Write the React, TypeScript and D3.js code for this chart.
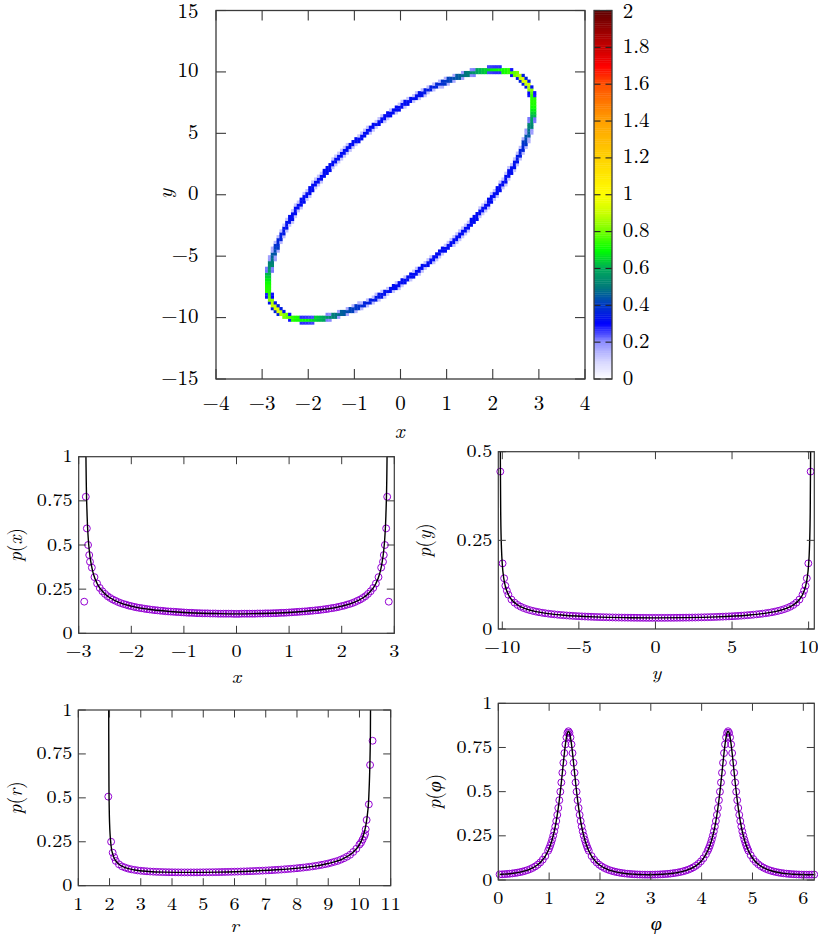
import React, { useMemo } from "react";
import * as d3 from "d3";

const FONT = '"Latin Modern Roman", "Liberation Serif", serif';
const MINUS = "\u2212";

// ---------------- top panel: 2D histogram on the orbit ----------------
const ringX = [2.880, 2.855, 2.782, 2.661, 2.494, 2.285, 2.036, 1.753, 1.440, 1.102, 0.745, 0.376, 0, -0.376, -0.745, -1.102, -1.440, -1.753, -2.036, -2.285, -2.494, -2.661, -2.782, -2.855, -2.880, -2.855, -2.782, -2.661, -2.494, -2.285, -2.036, -1.753, -1.440, -1.102, -0.745, -0.376, 0, 0.376, 0.745, 1.102, 1.440, 1.753, 2.036, 2.285, 2.494, 2.661, 2.782, 2.855];
const ringY = [7.212, 8.092, 8.833, 9.423, 9.852, 10.112, 10.199, 10.112, 9.852, 9.423, 8.833, 8.092, 7.212, 6.209, 5.100, 3.903, 2.640, 1.331, 0, -1.331, -2.640, -3.903, -5.100, -6.209, -7.212, -8.092, -8.833, -9.423, -9.852, -10.112, -10.199, -10.112, -9.852, -9.423, -8.833, -8.092, -7.212, -6.209, -5.100, -3.903, -2.640, -1.331, 0, 1.331, 2.640, 3.903, 5.100, 6.209];
const ringZ = [0.72, 0.74, 0.88, 0.95, 0.80, 0.72, 0.70, 0.62, 0.50, 0.42, 0.36, 0.33, 0.32, 0.32, 0.32, 0.32, 0.32, 0.32, 0.32, 0.32, 0.33, 0.37, 0.47, 0.58, 0.72, 0.74, 0.88, 0.95, 0.80, 0.72, 0.70, 0.62, 0.50, 0.42, 0.36, 0.33, 0.32, 0.32, 0.32, 0.32, 0.32, 0.32, 0.32, 0.32, 0.33, 0.37, 0.47, 0.58];
const heatXTicks = [-4, -3, -2, -1, 0, 1, 2, 3, 4];
const heatYTicks = [-15, -10, -5, 0, 5, 10, 15];
const cbTicks = [0, 0.2, 0.4, 0.6, 0.8, 1, 1.2, 1.4, 1.6, 1.8, 2];
const paletteStops = [0, 0.1, 0.2, 0.3, 0.4, 0.5, 0.6, 0.7, 0.8, 0.9, 1.0, 1.2, 1.4, 1.6, 1.7, 1.8, 2.0];
const paletteColors = ["#ffffff", "#d4d4ff", "#9090ff", "#0000ff", "#0038c8", "#007a7a", "#00aa5a", "#00ff00", "#70ff00", "#c8ff00", "#ffff00", "#ffd200", "#ffa000", "#ff5000", "#ff0000", "#c80000", "#600000"];

// ---------------- p(x) ----------------
const pxGridStart = -2.75;
const pxGridStep = 0.05;
const pxGridP = [0.372, 0.318, 0.282, 0.257, 0.238, 0.223, 0.210, 0.200, 0.191, 0.184, 0.177, 0.171, 0.166, 0.162, 0.157, 0.154, 0.150, 0.147, 0.144, 0.142, 0.139, 0.137, 0.135, 0.133, 0.131, 0.130, 0.128, 0.127, 0.125, 0.124, 0.123, 0.122, 0.121, 0.120, 0.119, 0.118, 0.117, 0.116, 0.116, 0.115, 0.114, 0.114, 0.113, 0.113, 0.113, 0.112, 0.112, 0.112, 0.111, 0.111, 0.111, 0.111, 0.111, 0.111, 0.110,
  0.110,
  0.110, 0.111, 0.111, 0.111, 0.111, 0.111, 0.111, 0.112, 0.112, 0.112, 0.113, 0.113, 0.113, 0.114, 0.114, 0.115, 0.116, 0.116, 0.117, 0.118, 0.119, 0.120, 0.121, 0.122, 0.123, 0.124, 0.125, 0.127, 0.128, 0.130, 0.131, 0.133, 0.135, 0.137, 0.139, 0.142, 0.144, 0.147, 0.150, 0.154, 0.157, 0.162, 0.166, 0.171, 0.177, 0.184, 0.191, 0.200, 0.210, 0.223, 0.238, 0.257, 0.282, 0.318, 0.372];
const pxEdgeX = [-2.895, -2.865, -2.845, -2.822, -2.800, -2.785, 2.785, 2.800, 2.822, 2.845, 2.865, 2.895];
const pxEdgeP = [0.179, 0.773, 0.594, 0.500, 0.443, 0.405, 0.405, 0.443, 0.500, 0.594, 0.773, 0.179];
const pxCurveX = [-2.875, -2.87, -2.86, -2.84, -2.82, -2.80, -2.76, -2.72, -2.65, -2.6, -2.5, -2.4, -2.2, -2.0, -1.6, -1.2, -0.8, -0.4, 0, 0.4, 0.8, 1.2, 1.6, 2.0, 2.2, 2.4, 2.5, 2.6, 2.65, 2.72, 2.76, 2.80, 2.82, 2.84, 2.86, 2.87, 2.875];
const pxCurveP = [1.876, 1.327, 0.940, 0.666, 0.544, 0.472, 0.387, 0.336, 0.282, 0.257, 0.223, 0.200, 0.171, 0.154, 0.133, 0.122, 0.115, 0.112, 0.110, 0.112, 0.115, 0.122, 0.133, 0.154, 0.171, 0.200, 0.223, 0.257, 0.282, 0.336, 0.387, 0.472, 0.544, 0.666, 0.940, 1.327, 1.876];
const pxXTicks = [-3, -2, -1, 0, 1, 2, 3];
const pxYTicks = [0, 0.25, 0.5, 0.75, 1];

// ---------------- p(y) ----------------
const pyGridStart = -9.6;
const pyGridStep = 0.2;
const pyGridP = [0.0966, 0.0831, 0.0743, 0.0678, 0.0629, 0.0591, 0.0559, 0.0532, 0.0510, 0.0490, 0.0473, 0.0458, 0.0445, 0.0433, 0.0422, 0.0413, 0.0404, 0.0396, 0.0389, 0.0382, 0.0376, 0.0370, 0.0365, 0.0360, 0.0356, 0.0352, 0.0348, 0.0345, 0.0341, 0.0338, 0.0335, 0.0333, 0.0331, 0.0328, 0.0326, 0.0324, 0.0323, 0.0321, 0.0320, 0.0319, 0.0318, 0.0317, 0.0316, 0.0315, 0.0315, 0.0314, 0.0314, 0.0314,
  0.0314,
  0.0314, 0.0314, 0.0314, 0.0315, 0.0315, 0.0316, 0.0317, 0.0318, 0.0319, 0.0320, 0.0321, 0.0323, 0.0324, 0.0326, 0.0328, 0.0331, 0.0333, 0.0335, 0.0338, 0.0341, 0.0345, 0.0348, 0.0352, 0.0356, 0.0360, 0.0365, 0.0370, 0.0376, 0.0382, 0.0389, 0.0396, 0.0404, 0.0413, 0.0422, 0.0433, 0.0445, 0.0458, 0.0473, 0.0490, 0.0510, 0.0532, 0.0559, 0.0591, 0.0629, 0.0678, 0.0743, 0.0831, 0.0966];
const pyEdgeY = [-10.13, -9.98, -9.88, -9.80, -9.70, 9.70, 9.80, 9.88, 9.98, 10.13];
const pyEdgeP = [0.444, 0.185, 0.143, 0.122, 0.108, 0.108, 0.122, 0.143, 0.185, 0.444];
const pyCurveY = [-10.147, -10.14, -10.13, -10.1, -10.05, -10.0, -9.9, -9.8, -9.6, -9.4, -9.0, -8.5, -8, -7, -6, -4, -2, 0, 2, 4, 6, 7, 8, 8.5, 9.0, 9.4, 9.6, 9.8, 9.9, 10.0, 10.05, 10.1, 10.13, 10.14, 10.147];
const pyCurveP = [1.290, 0.711, 0.501, 0.317, 0.224, 0.183, 0.142, 0.1205, 0.0966, 0.0831, 0.0678, 0.0574, 0.0510, 0.0433, 0.0389, 0.0341, 0.0320, 0.0314, 0.0320, 0.0341, 0.0389, 0.0433, 0.0510, 0.0574, 0.0678, 0.0831, 0.0966, 0.1205, 0.142, 0.183, 0.224, 0.317, 0.501, 0.711, 1.290];
const pyXTicks = [-10, -5, 0, 5, 10];
const pyYTicks = [0, 0.25, 0.5];

// ---------------- p(r) ----------------
const prGridStart = 2.2;
const prGridStep = 0.1;
const prGridP = [0.141, 0.122, 0.110, 0.103, 0.097, 0.093, 0.090, 0.087, 0.085, 0.0835, 0.082, 0.0807, 0.0797, 0.0788, 0.0782, 0.0776, 0.0771, 0.0767, 0.0764, 0.0762, 0.0760, 0.0758, 0.0757, 0.0757, 0.0757, 0.0757, 0.0758, 0.0760, 0.0762, 0.0764, 0.0767, 0.0769, 0.0772, 0.0775, 0.0779, 0.0783, 0.0787, 0.0791, 0.0796, 0.0802, 0.0807, 0.0813, 0.0819, 0.0826, 0.0833, 0.0841, 0.0849, 0.0857, 0.0866, 0.0876, 0.0886, 0.0897, 0.0908, 0.0920, 0.0934, 0.0948, 0.0962, 0.0978, 0.0994, 0.1013, 0.1032, 0.1053, 0.1075, 0.1099, 0.1127, 0.1157, 0.1189, 0.1225, 0.1263, 0.131, 0.136, 0.141, 0.148, 0.156, 0.165, 0.176, 0.192, 0.210, 0.234];
const prEdgeR = [1.96, 2.05, 2.10, 2.15, 10.05, 10.10, 10.15, 10.18, 10.20, 10.23, 10.30, 10.34, 10.42];
const prEdgeP = [0.507, 0.250, 0.188, 0.162, 0.245, 0.262, 0.280, 0.294, 0.321, 0.374, 0.463, 0.687, 0.825];
const prCurveR = [1.972, 1.975, 1.98, 1.99, 2.0, 2.05, 2.1, 2.2, 2.3, 2.5, 2.8, 3.25, 3.75, 4.5, 5.5, 6.5, 7.5, 8.5, 9.0, 9.5, 9.75, 10.0, 10.1, 10.2, 10.25, 10.3, 10.35, 10.37];
const prCurveP = [1.31, 0.86, 0.615, 0.439, 0.361, 0.226, 0.181, 0.141, 0.122, 0.103, 0.0896, 0.0812, 0.0773, 0.0757, 0.0775, 0.0826, 0.0920, 0.1099, 0.1263, 0.1558, 0.1828, 0.234, 0.272, 0.339, 0.399, 0.511, 0.852, 1.62];
const prXTicks = [1, 2, 3, 4, 5, 6, 7, 8, 9, 10, 11];
const prYTicks = [0, 0.25, 0.5, 0.75, 1];

// ---------------- p(phi) ----------------
const phiSeg1Start = 0.025, phiSeg1Step = 0.05;
const phiSeg1P = [0.0315, 0.0322, 0.0332, 0.0343, 0.0356, 0.0373, 0.0393, 0.0416, 0.0444, 0.0476, 0.0515, 0.0561, 0.0616, 0.0683, 0.0765, 0.0865, 0.0991, 0.1151, 0.1355];
const phiPeak1Start = 0.98, phiPeakStep = 0.02;
const phiPeak1P = [0.1654, 0.1787, 0.1936, 0.2104, 0.2294, 0.2508, 0.2751, 0.3025, 0.3335, 0.3685, 0.4077, 0.4515, 0.4997, 0.5519, 0.6071, 0.6635, 0.7182, 0.7675, 0.8071, 0.8329, 0.8419, 0.8329, 0.8071, 0.7675, 0.7182, 0.6635, 0.6071, 0.5519, 0.4997, 0.4515, 0.4077, 0.3685, 0.3335, 0.3025, 0.2751, 0.2508, 0.2294, 0.2104, 0.1936, 0.1787, 0.1654];
const phiSeg2Start = 1.835, phiSeg2Step = 0.05;
const phiSeg2P = [0.1355, 0.1151, 0.0991, 0.0865, 0.0765, 0.0683, 0.0616, 0.0561, 0.0515, 0.0476, 0.0444, 0.0416, 0.0393, 0.0373, 0.0356, 0.0343, 0.0332, 0.0322, 0.0315, 0.0309, 0.0305, 0.0302, 0.0301, 0.0301, 0.0303, 0.0307, 0.0311, 0.0318, 0.0326, 0.0336, 0.0348, 0.0362, 0.0381, 0.0402, 0.0427, 0.0456, 0.0492, 0.0533, 0.0582, 0.0642, 0.0714, 0.0803, 0.0913, 0.1052, 0.1228, 0.1455];
const phiPeak2Start = 4.12;
const phiPeak2P = [0.1654, 0.1787, 0.1936, 0.2104, 0.2294, 0.2508, 0.2751, 0.3025, 0.3335, 0.3685, 0.4077, 0.4515, 0.4997, 0.5519, 0.6071, 0.6635, 0.7182, 0.7675, 0.8071, 0.8329, 0.8419, 0.8329, 0.8071, 0.7675, 0.7182, 0.6635, 0.6071, 0.5519, 0.4997, 0.4515, 0.4077, 0.3685, 0.3335, 0.3025, 0.2751, 0.2508, 0.2294, 0.2104, 0.1936, 0.1787, 0.1654];
const phiSeg3Start = 4.965, phiSeg3Step = 0.05;
const phiSeg3P = [0.1403, 0.1188, 0.1020, 0.0888, 0.0783, 0.0698, 0.0629, 0.0571, 0.0524, 0.0484, 0.0450, 0.0421, 0.0397, 0.0377, 0.0359, 0.0346, 0.0334, 0.0324, 0.0316, 0.0310, 0.0306, 0.0303, 0.0301, 0.0301, 0.0303, 0.0306];
const phiXTicks = [0, 1, 2, 3, 4, 5, 6];
const phiYTicks = [0, 0.25, 0.5, 0.75, 1];

// ---------------- helpers ----------------
type Pt = [number, number];
const grid = (start: number, step: number, vals: number[]): Pt[] => vals.map((v, i) => [start + i * step, v] as Pt);
const pairs = (xs: number[], ys: number[]): Pt[] => xs.map((x, i) => [x, ys[i]] as Pt);
const byX = (a: Pt, b: Pt) => a[0] - b[0];

function fmt(v: number) {
  const s = String(+Math.abs(v).toFixed(4));
  return v < 0 ? MINUS + s : s;
}

type Frame = { x0: number; x1: number; y0: number; y1: number };

const FRAME_STROKE = "#3a3a3a";

function SText(props: { x: number; y: number; size: number; anchor?: string; stretch?: number; children: any; rotate?: boolean; italic?: boolean }) {
  const { x, y, size, anchor = "middle", stretch = 1, rotate = false, italic = false } = props;
  const tr = rotate ? `translate(${x},${y}) rotate(-90)` : `translate(${x},${y}) scale(${stretch},1)`;
  return (
    <text
      transform={tr}
      textAnchor={anchor as any}
      fill="#000"
      dominantBaseline={rotate ? "central" : undefined}
      style={{ fontFamily: FONT, fontSize: size + "px", fontStyle: italic ? "italic" : "normal" }}
    >
      {props.children}
    </text>
  );
}

function Heatmap() {
  const F: Frame = { x0: 216, x1: 585, y0: 10.5, y1: 379 };
  const sx = d3.scaleLinear().domain([-4, 4]).range([F.x0, F.x1]);
  const sy = d3.scaleLinear().domain([-15, 15]).range([F.y1, F.y0]);
  const color = d3.scaleLinear<string>().domain(paletteStops).range(paletteColors).interpolate(d3.interpolateRgb).clamp(true);
  const NX = 128, NY = 128;
  const dx = 8 / NX, dy = 30 / NY;
  const cw = sx(dx) - sx(0);
  const ch = sy(0) - sy(dy);

  const cells = useMemo(() => {
    const n = ringX.length;
    const P = ringX.map((x, i) => [sx(x), sy(ringY[i])]);
    const out: { x: number; y: number; v: number }[] = [];
    for (let i = 0; i < NX; i++) {
      const cx = -4 + (i + 0.5) * dx;
      if (Math.abs(cx) > 3.3) continue;
      for (let j = 0; j < NY; j++) {
        const cy = -15 + (j + 0.5) * dy;
        if (Math.abs(cy) > 11) continue;
        const px = sx(cx), py = sy(cy);
        let best = 1e9, bz = 0;
        for (let k = 0; k < n; k++) {
          const k2 = (k + 1) % n;
          const ax = P[k][0], ay = P[k][1], bx = P[k2][0], by = P[k2][1];
          const vx = bx - ax, vy = by - ay;
          const L = vx * vx + vy * vy;
          let t = ((px - ax) * vx + (py - ay) * vy) / L;
          t = Math.max(0, Math.min(1, t));
          const d = Math.hypot(ax + t * vx - px, ay + t * vy - py);
          if (d < best) {
            best = d;
            bz = ringZ[k] + (ringZ[k2] - ringZ[k]) * t;
          }
        }
        const w = best <= 2.2 ? 1 : best <= 3.5 ? 0.38 : 0;
        if (w > 0) out.push({ x: sx(cx - dx / 2), y: sy(cy + dy / 2), v: bz * w });
      }
    }
    return out;
  }, []);

  const CB = { x0: 594, x1: 612, y0: 10.5, y1: 379 };
  const sc = d3.scaleLinear().domain([0, 2]).range([CB.y1, CB.y0]);
  const cbSteps = d3.range(0, 2, 0.01);
  const TL = 10;
  const CTL = 6.5;

  return (
    <g>
      {cells.map((c, i) => (
        <rect key={i} x={c.x} y={c.y} width={cw + 0.35} height={ch + 0.35} fill={color(c.v)} />
      ))}
      {heatXTicks.map((t) => (
        <g key={"hx" + t}>
          <line x1={sx(t)} x2={sx(t)} y1={F.y1} y2={F.y1 - TL} stroke={FRAME_STROKE} strokeWidth={1.1} />
          <line x1={sx(t)} x2={sx(t)} y1={F.y0} y2={F.y0 + TL} stroke={FRAME_STROKE} strokeWidth={1.1} />
          <SText x={sx(t)} y={410} size={21}>{fmt(t)}</SText>
        </g>
      ))}
      {heatYTicks.map((t) => (
        <g key={"hy" + t}>
          <line x1={F.x0} x2={F.x0 + TL} y1={sy(t)} y2={sy(t)} stroke={FRAME_STROKE} strokeWidth={1.1} />
          <line x1={F.x1} x2={F.x1 - TL} y1={sy(t)} y2={sy(t)} stroke={FRAME_STROKE} strokeWidth={1.1} />
          <SText x={198.5} y={Math.max(sy(t) + 5.5, 18)} size={21} anchor="end">{fmt(t)}</SText>
        </g>
      ))}
      <rect x={F.x0} y={F.y0} width={F.x1 - F.x0} height={F.y1 - F.y0} fill="none" stroke={FRAME_STROKE} strokeWidth={1.3} />
      <SText x={399.5} y={438} size={21} italic>x</SText>
      <SText x={163} y={194} size={21} italic rotate>y</SText>

      {cbSteps.map((v, i) => (
        <rect key={"cb" + i} x={CB.x0} y={sc(v + 0.01)} width={CB.x1 - CB.x0} height={sc(v) - sc(v + 0.01) + 0.4} fill={color(v + 0.005)} />
      ))}
      {cbTicks.map((t) => (
        <g key={"cbt" + t}>
          <line x1={CB.x0} x2={CB.x0 + CTL} y1={sc(t)} y2={sc(t)} stroke="#222" strokeWidth={1.1} />
          <line x1={CB.x1} x2={CB.x1 - CTL} y1={sc(t)} y2={sc(t)} stroke="#222" strokeWidth={1.1} />
          <SText x={622.7} y={Math.max(sc(t) + 5.5, 18)} size={21} anchor="start">{fmt(t)}</SText>
        </g>
      ))}
      <rect x={CB.x0} y={CB.y0} width={CB.x1 - CB.x0} height={CB.y1 - CB.y0} fill="none" stroke={FRAME_STROKE} strokeWidth={1.3} />
    </g>
  );
}

function LinePlot(props: {
  id: string;
  f: Frame;
  xd: [number, number];
  yd: [number, number];
  xTicks: number[];
  yTicks: number[];
  pts: Pt[];
  curve: Pt[];
  xLabel: any;
  yLabel: any;
  yLabelX: number;
  yTickGap: number;
  xLabelOffset: number;
}) {
  const { id, f, xd, yd, xTicks, yTicks, pts, curve } = props;
  const sx = d3.scaleLinear().domain(xd).range([f.x0, f.x1]);
  const sy = d3.scaleLinear().domain(yd).range([f.y1, f.y0]);
  const line = d3.line<Pt>().x((d) => sx(d[0])).y((d) => sy(d[1])).curve(d3.curveMonotoneX);
  const TL = 7.5;
  const ST = 1.12;
  const FS = 18;
  return (
    <g>
      <defs>
        <clipPath id={id}>
          <rect x={f.x0} y={f.y0} width={f.x1 - f.x0} height={f.y1 - f.y0} />
        </clipPath>
      </defs>
      {pts.map((d, i) => (
        <circle key={i} cx={sx(d[0])} cy={sy(d[1])} r={3.45} fill="none" stroke="#9400d3" strokeWidth={1} />
      ))}
      <g clipPath={`url(#${id})`}>
        <path d={line(curve) || ""} fill="none" stroke="#000" strokeWidth={1.4} />
      </g>
      {xTicks.map((t) => (
        <g key={"x" + t}>
          <line x1={sx(t)} x2={sx(t)} y1={f.y1} y2={f.y1 - TL} stroke={FRAME_STROKE} strokeWidth={1} />
          <line x1={sx(t)} x2={sx(t)} y1={f.y0} y2={f.y0 + TL} stroke={FRAME_STROKE} strokeWidth={1} />
          <SText x={sx(t)} y={f.y1 + 24} size={FS} stretch={ST}>{fmt(t)}</SText>
        </g>
      ))}
      {yTicks.map((t) => (
        <g key={"y" + t}>
          <line x1={f.x0} x2={f.x0 + TL} y1={sy(t)} y2={sy(t)} stroke={FRAME_STROKE} strokeWidth={1} />
          <line x1={f.x1} x2={f.x1 - TL} y1={sy(t)} y2={sy(t)} stroke={FRAME_STROKE} strokeWidth={1} />
          <SText x={f.x0 - props.yTickGap} y={sy(t) + 5.5} size={FS} stretch={ST} anchor="end">{fmt(t)}</SText>
        </g>
      ))}
      <rect x={f.x0} y={f.y0} width={f.x1 - f.x0} height={f.y1 - f.y0} fill="none" stroke={FRAME_STROKE} strokeWidth={1.2} />
      <SText x={(f.x0 + f.x1) / 2} y={f.y1 + props.xLabelOffset} size={FS} stretch={ST}>{props.xLabel}</SText>
      <SText x={props.yLabelX} y={(f.y0 + f.y1) / 2} size={19.5} rotate>{props.yLabel}</SText>
    </g>
  );
}

const I = (s: string) => <tspan style={{ fontStyle: "italic" }}>{s}</tspan>;

export default function App() {
  const pxPts = [...grid(pxGridStart, pxGridStep, pxGridP), ...pairs(pxEdgeX, pxEdgeP)];
  const pyPts = [...grid(pyGridStart, pyGridStep, pyGridP), ...pairs(pyEdgeY, pyEdgeP)];
  const prPts = [...grid(prGridStart, prGridStep, prGridP), ...pairs(prEdgeR, prEdgeP)];
  const phiPts = [
    ...grid(phiSeg1Start, phiSeg1Step, phiSeg1P),
    ...grid(phiPeak1Start, phiPeakStep, phiPeak1P),
    ...grid(phiSeg2Start, phiSeg2Step, phiSeg2P),
    ...grid(phiPeak2Start, phiPeakStep, phiPeak2P),
    ...grid(phiSeg3Start, phiSeg3Step, phiSeg3P),
  ].sort(byX);

  return (
    <svg width={818} height={937} viewBox="0 0 818 937" style={{ position: "absolute", left: 0, top: 0, display: "block", background: "#fff", fontFamily: FONT }}>
      <rect x={0} y={0} width={818} height={937} fill="#fff" />
      <Heatmap />
      <LinePlot
        id="cpx"
        f={{ x0: 78.7, x1: 394.3, y0: 456.7, y1: 633.3 }}
        xd={[-3, 3]}
        yd={[0, 1]}
        xTicks={pxXTicks}
        yTicks={pxYTicks}
        pts={pxPts}
        curve={pairs(pxCurveX, pxCurveP)}
        xLabel={I("x")}
        yLabel={<>{I("p")}({I("x")})</>}
        yLabelX={13.5}
        yTickGap={6}
        xLabelOffset={50}
      />
      <LinePlot
        id="cpy"
        f={{ x0: 498.3, x1: 814.3, y0: 451.7, y1: 629 }}
        xd={[-10.26, 10.37]}
        yd={[0, 0.5]}
        xTicks={pyXTicks}
        yTicks={pyYTicks}
        pts={pyPts}
        curve={pairs(pyCurveY, pyCurveP)}
        xLabel={I("y")}
        yLabel={<>{I("p")}({I("y")})</>}
        yLabelX={423}
        yTickGap={6}
        xLabelOffset={49.5}
      />
      <LinePlot
        id="cpr"
        f={{ x0: 78.3, x1: 390.7, y0: 710, y1: 885.7 }}
        xd={[1, 11]}
        yd={[0, 1]}
        xTicks={prXTicks}
        yTicks={prYTicks}
        pts={prPts}
        curve={pairs(prCurveR, prCurveP)}
        xLabel={I("r")}
        yLabel={<>{I("p")}({I("r")})</>}
        yLabelX={14}
        yTickGap={6}
        xLabelOffset={46}
      />
      <LinePlot
        id="cpphi"
        f={{ x0: 498.3, x1: 814.3, y0: 703.3, y1: 880 }}
        xd={[0, 6.216]}
        yd={[0, 1]}
        xTicks={phiXTicks}
        yTicks={phiYTicks}
        pts={phiPts}
        curve={phiPts}
        xLabel={I("\u03C6")}
        yLabel={<>{I("p")}({I("\u03C6")})</>}
        yLabelX={433}
        yTickGap={6}
        xLabelOffset={50}
      />
    </svg>
  );
}
